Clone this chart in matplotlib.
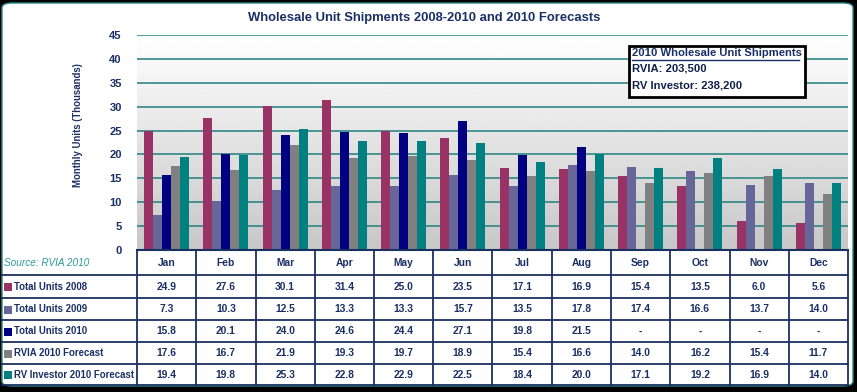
import numpy as np
import matplotlib
matplotlib.use("Agg")
import matplotlib.pyplot as plt
from matplotlib.patches import Rectangle, FancyBboxPatch
from matplotlib.lines import Line2D
from matplotlib import font_manager

months = ["Jan", "Feb", "Mar", "Apr", "May", "Jun", "Jul", "Aug", "Sep", "Oct", "Nov", "Dec"]
units_2008 = [24.9, 27.6, 30.1, 31.4, 25.0, 23.5, 17.1, 16.9, 15.4, 13.5, 6.0, 5.6]
units_2009 = [7.3, 10.3, 12.5, 13.3, 13.3, 15.7, 13.5, 17.8, 17.4, 16.6, 13.7, 14.0]
units_2010 = [15.8, 20.1, 24.0, 24.6, 24.4, 27.1, 19.8, 21.5, None, None, None, None]
rvia_2010_fc = [17.6, 16.7, 21.9, 19.3, 19.7, 18.9, 15.4, 16.6, 14.0, 16.2, 15.4, 11.7]
rvinv_2010_fc = [19.4, 19.8, 25.3, 22.8, 22.9, 22.5, 18.4, 20.0, 17.1, 19.2, 16.9, 14.0]
series_names = ["Total Units 2008", "Total Units 2009", "Total Units 2010",
                "RVIA 2010 Forecast", "RV Investor 2010 Forecast"]
series_colors = ["#993366", "#666699", "#000080", "#808080", "#008080"]
yticks = [0, 5, 10, 15, 20, 25, 30, 35, 40, 45]
title = "Wholesale Unit Shipments 2008-2010 and 2010 Forecasts"
ylabel = "Monthly Units (Thousands)"
box_title = "2010 Wholesale Unit Shipments"
box_lines = ["RVIA: 203,500", "RV Investor: 238,200"]
source = "Source: RVIA 2010"

series = [units_2008, units_2009, units_2010, rvia_2010_fc, rvinv_2010_fc]

names = {f.name for f in font_manager.fontManager.ttflist}
narrow = "Liberation Sans Narrow" in names
FONT = "Liberation Sans"
TFONT = "Liberation Sans Narrow" if narrow else FONT
NAVY = "#1a2f66"

W, H = 857, 392
fig = plt.figure(figsize=(W / 100, H / 100), dpi=100)
fig.patch.set_facecolor("black")


def fx(x):
    return x / W


def fy(y):
    return 1 - y / H


# white rounded panel
panel = FancyBboxPatch((fx(2), fy(386)), fx(851), (386 - 3) / H,
                       boxstyle="round,pad=0,rounding_size=0.012",
                       transform=fig.transFigure, facecolor="white",
                       edgecolor="#2a8a8a", linewidth=1, zorder=-5)
fig.patches.append(panel)

# plot area
L, R, T, B = 137, 848, 35, 250
ax = fig.add_axes([fx(L), fy(B), (R - L) / W, (B - T) / H])
ax.set_zorder(1)
ax.patch.set_visible(False)
ax.set_xlim(-0.5, len(months) - 0.5)
ax.set_ylim(0, 45)
grad = np.linspace(1.0, 0.78, 256).reshape(-1, 1)
ax.imshow(grad, extent=[-0.5, len(months) - 0.5, 0, 45], aspect="auto",
          cmap="gray", vmin=0, vmax=1, zorder=0, origin="upper")
for yv in yticks[1:]:
    ax.axhline(yv, color="#1f7f7f", lw=1.1, zorder=1)

x = np.arange(len(months))
bw = 0.152
for i, (vals, col) in enumerate(zip(series, series_colors)):
    v = np.array([np.nan if a is None else a for a in vals], dtype=float)
    m = ~np.isnan(v)
    ax.bar(x[m] + (i - 2) * bw, v[m], width=bw, color=col, zorder=2, linewidth=0)

for s in ax.spines.values():
    s.set_visible(False)
ax.set_xticks([])
ax.set_yticks(yticks)
ax.set_yticklabels([str(t) for t in yticks], fontfamily=FONT, fontweight="bold",
                   fontsize=8, color=NAVY)
ax.tick_params(axis="y", length=0, pad=11)

# title and y label
fig.text(fx(424.5), fy(18), title, ha="center", va="center",
         fontfamily=TFONT, fontweight="bold", fontsize=11 if narrow else 9.4, color=NAVY)
fig.text(fx(78), fy(125), ylabel, rotation=90, ha="center", va="center",
         fontfamily=FONT, fontweight="bold", fontsize=6.9, color=NAVY)

# annotation box
fig.patches.append(Rectangle((fx(629), fy(97)), fx(805) - fx(629), (97 - 46) / H,
                             transform=fig.transFigure, facecolor="white",
                             edgecolor="black", linewidth=2, zorder=5))
bfs = 9.6 if narrow else 8.1
fig.text(fx(632), fy(52.5), box_title, ha="left", va="center", fontfamily=TFONT,
         fontweight="bold", fontsize=bfs, color=NAVY, zorder=6)
fig.lines.append(Line2D([fx(632), fx(799)], [fy(59.5), fy(59.5)], transform=fig.transFigure,
                        color=NAVY, lw=1, zorder=6))
for yy, txt in zip([68.5, 85.5], box_lines):
    fig.text(fx(632), fy(yy), txt, ha="left", va="center", fontfamily=TFONT,
             fontweight="bold", fontsize=bfs, color="#10204a", zorder=6)

# source
fig.text(fx(4), fy(263.5), source, ha="left", va="center", fontfamily=FONT,
         fontstyle="italic", fontsize=7.2, color="#2a9a9a")

# table
col_w = (R - L) / len(months)
row_edges = [250, 275, 298, 320, 342, 364, 385]
LINE = "#1a3060"
for k in range(len(months) + 1):
    xe = L + k * col_w
    fig.lines.append(Line2D([fx(xe), fx(xe)], [fy(250), fy(385)], transform=fig.transFigure,
                            color=LINE, lw=1.3, zorder=4))
fig.lines.append(Line2D([fx(L), fx(R)], [fy(250), fy(250)], transform=fig.transFigure,
                        color=LINE, lw=1.5, zorder=4))
for ye in row_edges[1:]:
    fig.lines.append(Line2D([fx(2), fx(R)], [fy(ye), fy(ye)], transform=fig.transFigure,
                            color=LINE, lw=1.3, zorder=4))

for j, mth in enumerate(months):
    fig.text(fx(L + (j + 0.5) * col_w), fy(262.5), mth, ha="center", va="center",
             fontfamily=FONT, fontweight="bold", fontsize=7.4, color=NAVY)

for r, (name, col, vals) in enumerate(zip(series_names, series_colors, series)):
    yc = (row_edges[r + 1] + row_edges[r + 2]) / 2 + 0.5
    fig.patches.append(Rectangle((fx(3.5), fy(yc + 4)), 8 / W, 8 / H, transform=fig.transFigure,
                                 facecolor=col, edgecolor="none", zorder=4))
    fig.text(fx(14), fy(yc), name, ha="left", va="center", fontfamily=FONT,
             fontweight="bold", fontsize=6.9, color=NAVY)
    for j, v in enumerate(vals):
        s = "-" if v is None else f"{v:.1f}"
        fig.text(fx(L + (j + 0.5) * col_w), fy(yc), s, ha="center", va="center",
                 fontfamily=FONT, fontweight="bold", fontsize=7.4, color=NAVY)

fig.savefig("out.png", dpi=100, facecolor=fig.get_facecolor())
